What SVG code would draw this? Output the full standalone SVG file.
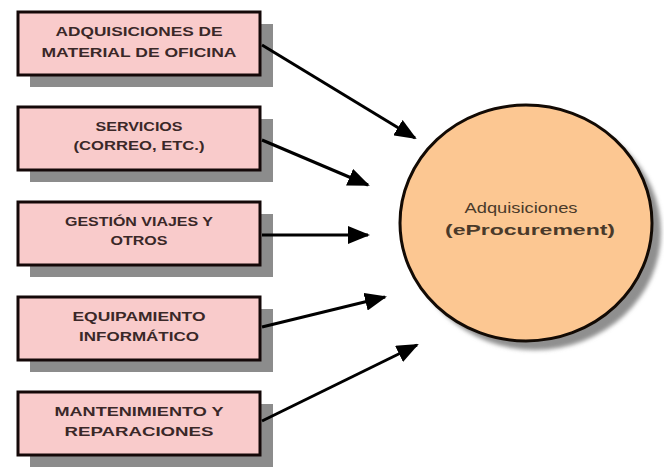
<svg xmlns="http://www.w3.org/2000/svg" width="664" height="467" viewBox="0 0 664 467">
  <defs>
    <style>
      .shadow { fill: #8c8c8c; }
      .box { fill: #f9cbcb; stroke: #140808; stroke-width: 3; }
      .label { font-family: "Liberation Sans", Arial, sans-serif; font-weight: bold; font-size: 12.5px; fill: #3a2828; text-anchor: middle; }
      .hub { fill: #fcc792; stroke: #120a04; stroke-width: 3; }
      .hub-text { font-family: "Liberation Sans", Arial, sans-serif; font-size: 14px; fill: #4a3a2a; text-anchor: middle; }
      .link { fill: none; stroke: #000; stroke-width: 3; marker-end: url(#head); }
    </style>
    <marker id="head" markerUnits="userSpaceOnUse" markerWidth="22" markerHeight="18" viewBox="0 0 22 18" refX="20" refY="9" orient="auto">
      <path d="M0,0 L22,9 L0,18 Z" fill="#000"/>
    </marker>
    <filter id="soft" x="-10%" y="-10%" width="120%" height="120%">
      <feGaussianBlur stdDeviation="2"/>
    </filter>
  </defs>

  <rect width="664" height="467" fill="#ffffff"/>

  <!-- source boxes -->
  <g id="material-oficina">
    <rect class="shadow" x="30" y="24" width="243" height="63"/>
    <rect class="box" x="18" y="12" width="242" height="63"/>
    <text class="label" x="139" y="36" textLength="167" lengthAdjust="spacingAndGlyphs">ADQUISICIONES DE</text>
    <text class="label" x="139" y="57" textLength="195" lengthAdjust="spacingAndGlyphs">MATERIAL DE OFICINA</text>
  </g>

  <g id="servicios">
    <rect class="shadow" x="30" y="119" width="243" height="63"/>
    <rect class="box" x="18" y="107" width="242" height="63"/>
    <text class="label" x="139" y="131" textLength="87" lengthAdjust="spacingAndGlyphs">SERVICIOS</text>
    <text class="label" x="139" y="150" textLength="131" lengthAdjust="spacingAndGlyphs">(CORREO, ETC.)</text>
  </g>

  <g id="viajes">
    <rect class="shadow" x="30" y="214" width="243" height="63"/>
    <rect class="box" x="18" y="202" width="242" height="63"/>
    <text class="label" x="139" y="226" textLength="148" lengthAdjust="spacingAndGlyphs">GESTIÓN VIAJES Y</text>
    <text class="label" x="139" y="245" textLength="57" lengthAdjust="spacingAndGlyphs">OTROS</text>
  </g>

  <g id="equipamiento">
    <rect class="shadow" x="30" y="309" width="243" height="63"/>
    <rect class="box" x="18" y="297" width="242" height="63"/>
    <text class="label" x="139" y="321" textLength="133" lengthAdjust="spacingAndGlyphs">EQUIPAMIENTO</text>
    <text class="label" x="139" y="341" textLength="120" lengthAdjust="spacingAndGlyphs">INFORMÁTICO</text>
  </g>

  <g id="mantenimiento">
    <rect class="shadow" x="30" y="404" width="243" height="63"/>
    <rect class="box" x="18" y="392" width="242" height="63"/>
    <text class="label" x="139" y="416" textLength="169" lengthAdjust="spacingAndGlyphs">MANTENIMIENTO Y</text>
    <text class="label" x="139" y="436" textLength="149" lengthAdjust="spacingAndGlyphs">REPARACIONES</text>
  </g>

  <!-- central process -->
  <g id="eprocurement">
    <ellipse cx="535" cy="232" rx="126" ry="118" fill="#8f8f8f" filter="url(#soft)"/>
    <ellipse class="hub" cx="526" cy="223" rx="126" ry="118"/>
    <text class="hub-text" x="521" y="213" textLength="113" lengthAdjust="spacingAndGlyphs">Adquisiciones</text>
    <text class="hub-text" x="530" y="235" font-weight="bold" textLength="170" lengthAdjust="spacingAndGlyphs">(eProcurement)</text>
  </g>

  <!-- connectors -->
  <g id="connectors">
    <line class="link" x1="262" y1="45" x2="415" y2="138"/>
    <line class="link" x1="262" y1="140" x2="368" y2="185"/>
    <line class="link" x1="262" y1="235" x2="368" y2="235"/>
    <line class="link" x1="262" y1="327" x2="385" y2="297"/>
    <line class="link" x1="262" y1="421" x2="417" y2="345"/>
  </g>
</svg>
